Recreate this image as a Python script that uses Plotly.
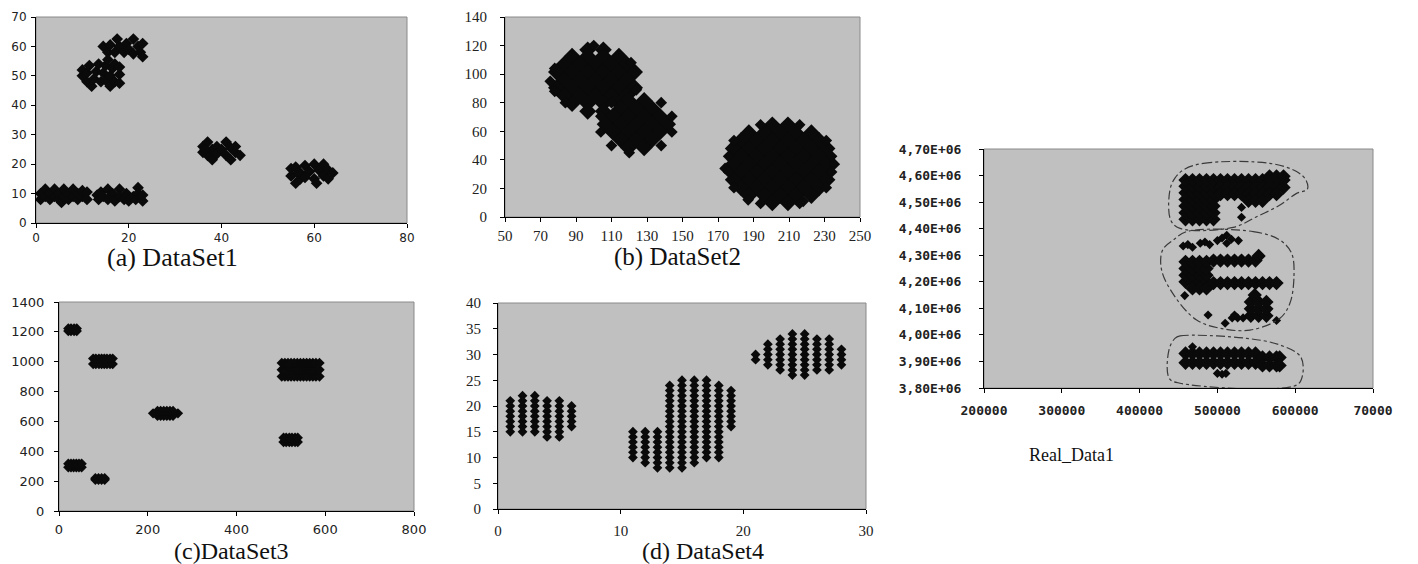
import plotly.graph_objects as go

W, H = 1418, 564

# ---------------- (a) DataSet1 ----------------
ds1_row_left_x = [1, 1, 2, 2, 3, 3, 4, 4, 5, 5, 5.5, 6, 6, 7, 7, 8, 8, 9, 9, 10, 10, 11, 11]
ds1_row_left_y = [8, 10, 9, 11.5, 8, 10, 9, 11.5, 8, 10, 7, 9, 11.5, 8, 10, 9, 11.5, 8, 10, 9, 11, 8, 10.5]
ds1_row_right_x = [13.2, 13.5, 14, 14.5, 15.5, 15.5, 16.5, 17, 18, 18, 19, 19.5, 20, 21, 21.5, 22, 22, 23, 23]
ds1_row_right_y = [9.5, 8, 10.5, 9, 11.5, 8, 10, 7.5, 11.5, 9, 8, 10, 7.5, 9, 8, 12, 10, 7.5, 9.5]
ds1_mid_x = [10, 10, 11, 11, 11.5, 12, 12.5, 13, 13.5, 14, 14.5, 15, 15, 16, 16, 16.5, 17, 17, 18, 18, 18]
ds1_mid_y = [50, 52, 48, 51, 53.5, 46.5, 49, 51.5, 54, 48, 51, 53.5, 48.5, 46.5, 50, 52.5, 48, 54, 47.5, 50.5, 53]
ds1_top_x = [14.5, 15.5, 16, 17, 17.5, 18, 19, 19.5, 20, 21, 21, 22, 22.5, 23, 23, 15.5]
ds1_top_y = [60, 58, 60.5, 58, 62.5, 60, 58, 61, 59, 62.5, 57.5, 60, 58, 61, 56.5, 55.5]
ds1_c4_x = [36, 36, 37, 37, 38, 38, 39, 39, 40, 41, 41, 42, 42, 43, 43, 44, 36.5]
ds1_c4_y = [24, 26, 27.5, 23, 25, 21.5, 26, 23.5, 25, 27.5, 23, 25.5, 21.5, 24, 26, 23, 25]
ds1_c5_x = [55, 55, 56, 56, 57, 57, 58, 58, 59, 60, 60, 60.5, 61, 62, 62, 63, 63, 64, 56.5]
ds1_c5_y = [16, 18.5, 13.5, 19, 17, 15, 19.5, 15.5, 17.5, 20, 15, 13.5, 18, 20, 16, 18, 15, 17, 17]

# ---------------- (b) DataSet2 ----------------
ds2_blob1_x = [96.6, 105.4,
               87.8, 96.6, 105.4, 114.2,
               83.4, 92.2, 101, 109.8, 118.6,
               79, 87.8, 96.6, 105.4, 114.2, 123,
               83.4, 92.2, 101, 109.8, 118.6,
               79, 87.8, 96.6, 105.4, 114.2, 123,
               83.4, 92.2, 101, 109.8, 118.6,
               87.8, 96.6, 105.4, 114.2,
               96.6, 105.4]
ds2_blob1_y = [117, 117,
               112.5, 112.5, 112.5, 112.5,
               107, 107, 107, 107, 107,
               101.5, 101.5, 101.5, 101.5, 101.5, 101.5,
               96, 96, 96, 96, 96,
               90.5, 90.5, 90.5, 90.5, 90.5, 90.5,
               85, 85, 85, 85, 85,
               79.5, 79.5, 79.5, 79.5,
               74, 74]
ds2_blob2_x = [119.6, 128.4,
               115.2, 124, 132.8,
               110.8, 119.6, 128.4, 137.2,
               106.4, 115.2, 124, 132.8, 141.6,
               110.8, 119.6, 128.4, 137.2,
               115.2, 124, 132.8,
               119.6, 128.4]
ds2_blob2_y = [81.5, 81.5,
               76, 76, 76,
               70.5, 70.5, 70.5, 70.5,
               65, 65, 65, 65, 65,
               59.5, 59.5, 59.5, 59.5,
               54, 54, 54,
               48.5, 48.5]
ds2_blob3_x = [200.6, 209.4,
               187.4, 196.2, 205, 213.8, 222.6,
               183, 191.8, 200.6, 209.4, 218.2, 227,
               178.6, 187.4, 196.2, 205, 213.8, 222.6, 231.4,
               183, 191.8, 200.6, 209.4, 218.2, 227,
               178.6, 187.4, 196.2, 205, 213.8, 222.6, 231.4,
               183, 191.8, 200.6, 209.4, 218.2, 227,
               178.6, 187.4, 196.2, 205, 213.8, 222.6, 231.4,
               183, 191.8, 200.6, 209.4, 218.2, 227,
               187.4, 196.2, 205, 213.8, 222.6,
               200.6, 209.4]
ds2_blob3_y = [64.5, 64.5,
               59, 59, 59, 59, 59,
               53.5, 53.5, 53.5, 53.5, 53.5, 53.5,
               48, 48, 48, 48, 48, 48, 48,
               42.5, 42.5, 42.5, 42.5, 42.5, 42.5,
               37, 37, 37, 37, 37, 37, 37,
               31.5, 31.5, 31.5, 31.5, 31.5, 31.5,
               26, 26, 26, 26, 26, 26, 26,
               20.5, 20.5, 20.5, 20.5, 20.5, 20.5,
               15, 15, 15, 15, 15,
               10, 10]
ds2_rim_x = [75.5, 84, 121, 100, 78, 78, 124,
             144, 144, 104, 104, 120, 110, 138, 110, 138,
             235.5, 174, 234, 176, 234, 176, 187, 218, 231, 179, 231, 179, 194, 216, 194, 216]
ds2_rim_y = [95, 80, 108, 120, 104, 88, 89,
             70.5, 59.5, 70.5, 59.5, 45, 50, 50, 80, 80,
             37, 34, 42.5, 42.5, 31.5, 31.5, 12, 11, 53.5, 53.5, 20.5, 20.5, 64.5, 64.5, 9.5, 9.5]

# ---------------- (c) DataSet3 ----------------
ds3_x = [21, 27, 34, 40, 21, 27, 34, 40,
         77, 83, 90, 96, 102, 108, 115, 121, 77, 83, 90, 96, 102, 108, 115, 121,
         212, 268, 222, 229, 236, 243, 250, 257, 222, 229, 236, 243, 250, 257,
         21, 27, 33, 39, 45, 51, 21, 27, 33, 39, 45, 51,
         82, 89, 96, 103, 82, 89, 96, 103,
         506, 512, 519, 525, 532, 538, 506, 512, 519, 525, 532, 538,
         502, 509, 516, 523, 530, 537, 544, 551, 558, 565, 572, 579, 587,
         502, 509, 516, 523, 530, 537, 544, 551, 558, 565, 572, 579, 587,
         502, 509, 516, 523, 530, 537, 544, 551, 558, 565, 572, 579, 587]
ds3_y = [1205, 1205, 1205, 1205, 1222, 1222, 1222, 1222,
         985, 985, 985, 985, 985, 985, 985, 985, 1021, 1021, 1021, 1021, 1021, 1021, 1021, 1021,
         654, 654, 638, 638, 638, 638, 638, 638, 670, 670, 670, 670, 670, 670,
         293, 293, 293, 293, 293, 293, 317, 317, 317, 317, 317, 317,
         209, 209, 209, 209, 219, 219, 219, 219,
         462, 462, 462, 462, 462, 462, 491, 491, 491, 491, 491, 491,
         901, 901, 901, 901, 901, 901, 901, 901, 901, 901, 901, 901, 901,
         946, 946, 946, 946, 946, 946, 946, 946, 946, 946, 946, 946, 946,
         992, 992, 992, 992, 992, 992, 992, 992, 992, 992, 992, 992, 992]

# ---------------- (d) DataSet4 ----------------
ds4_col_x = [1, 2, 3, 4, 5, 6, 11, 12, 13, 14, 15, 16, 17, 18, 19, 21, 22, 23, 24, 25, 26, 27, 28]
ds4_col_y = [
    [15, 16, 17, 18, 19, 20, 21],
    [15, 16, 17, 18, 19, 20, 21, 22],
    [15, 16, 17, 18, 19, 20, 21, 22],
    [14, 15, 16, 17, 18, 19, 20, 21],
    [14, 15, 16, 17, 18, 19, 20, 21],
    [16, 17, 18, 19, 20],
    [10, 11, 12, 13, 14, 15],
    [9, 10, 11, 12, 13, 14, 15],
    [8, 9, 10, 11, 12, 13, 14, 15],
    [8, 9, 10, 11, 12, 13, 14, 15, 16, 17, 18, 19, 20, 21, 22, 23, 24],
    [8, 9, 10, 11, 12, 13, 14, 15, 16, 17, 18, 19, 20, 21, 22, 23, 24, 25],
    [9, 10, 11, 12, 13, 14, 15, 16, 17, 18, 19, 20, 21, 22, 23, 24, 25],
    [10, 11, 12, 13, 14, 15, 16, 17, 18, 19, 20, 21, 22, 23, 24, 25],
    [10, 11, 12, 13, 14, 15, 16, 17, 18, 19, 20, 21, 22, 23, 24],
    [16, 17, 18, 19, 20, 21, 22, 23],
    [29, 30],
    [28, 29, 30, 31, 32],
    [27, 28, 29, 30, 31, 32, 33],
    [26, 27, 28, 29, 30, 31, 32, 33, 34],
    [26, 27, 28, 29, 30, 31, 32, 33, 34],
    [27, 28, 29, 30, 31, 32, 33],
    [27, 28, 29, 30, 31, 32, 33],
    [28, 29, 30, 31],
]

# ---------------- Real_Data1 (x in thousands, y in millions) ----------------
rd_bulk_xk = [459, 468, 477, 486, 495, 459, 468, 477, 486, 495, 459, 468, 477, 486, 495,
              459, 468, 477, 486, 495, 459, 468, 477, 486, 495, 459, 468, 477, 486, 495,
              459, 468, 477, 486, 495,
              504, 513, 522, 531, 540, 549, 558, 567, 576, 585,
              504, 513, 522, 531, 540, 549, 558, 567, 576, 585,
              504, 513, 522, 531, 540, 549, 558, 567, 576,
              540, 549, 558, 567, 576, 585,
              459, 468, 477, 486, 459, 468, 477, 486, 459, 468, 477, 486, 459, 468, 477, 486,
              468, 477, 486,
              495, 504, 513, 522, 531, 540, 549, 553,
              495, 504, 513, 522, 531, 540, 549, 558, 567, 576,
              543, 553, 563, 543, 553, 563, 543, 553, 563, 548,
              459, 468, 477, 486, 495, 504, 513, 522, 531, 540, 549,
              459, 468, 477, 486, 495, 504, 513, 522, 531, 540, 549,
              558, 567, 576, 580, 558, 567, 576, 580]
rd_bulk_ym = [4.435, 4.435, 4.435, 4.435, 4.435, 4.46, 4.46, 4.46, 4.46, 4.46, 4.485, 4.485, 4.485, 4.485, 4.485,
              4.51, 4.51, 4.51, 4.51, 4.51, 4.535, 4.535, 4.535, 4.535, 4.535, 4.56, 4.56, 4.56, 4.56, 4.56,
              4.583, 4.583, 4.583, 4.583, 4.583,
              4.583, 4.583, 4.583, 4.583, 4.583, 4.583, 4.583, 4.583, 4.583, 4.583,
              4.555, 4.555, 4.555, 4.555, 4.555, 4.555, 4.555, 4.555, 4.555, 4.555,
              4.53, 4.53, 4.53, 4.53, 4.53, 4.53, 4.53, 4.53, 4.53,
              4.505, 4.505, 4.505, 4.597, 4.597, 4.597,
              4.20, 4.20, 4.20, 4.20, 4.225, 4.225, 4.225, 4.225, 4.25, 4.25, 4.25, 4.25, 4.275, 4.275, 4.275, 4.275,
              4.175, 4.175, 4.175,
              4.28, 4.28, 4.28, 4.28, 4.28, 4.28, 4.28, 4.297,
              4.195, 4.195, 4.195, 4.195, 4.195, 4.195, 4.195, 4.195, 4.195, 4.195,
              4.072, 4.072, 4.072, 4.098, 4.098, 4.098, 4.124, 4.124, 4.124, 4.15,
              3.93, 3.93, 3.93, 3.93, 3.93, 3.93, 3.93, 3.93, 3.93, 3.93, 3.93,
              3.895, 3.895, 3.895, 3.895, 3.895, 3.895, 3.895, 3.895, 3.895, 3.895, 3.895,
              3.915, 3.915, 3.915, 3.915, 3.885, 3.885, 3.885, 3.885]
rd_small_xk = [531, 531,
               456, 462, 468, 478, 484, 490, 500, 506, 512, 518, 512, 527,
               519, 526, 533, 522,
               458, 488, 510, 576,
               500, 506, 511, 468]
rd_small_ym = [4.48, 4.443,
               4.335, 4.34, 4.33, 4.345, 4.35, 4.34, 4.355, 4.365, 4.375, 4.36, 4.345, 4.355,
               4.064, 4.064, 4.064, 4.075,
               4.148, 4.075, 4.044, 4.054,
               3.855, 3.852, 3.855, 3.955]

rd_outline_top_xk = [456, 482, 567.5, 601.8, 613.8, 615.5, 601.8, 580.4, 550.4, 520.4, 451.9, 439.9, 439, 445.4, 456]
rd_outline_top_ym = [4.621, 4.646, 4.646, 4.615, 4.583, 4.548, 4.533, 4.489, 4.445, 4.405, 4.401, 4.433, 4.546, 4.590, 4.621]
rd_outline_mid_xk = [460.5, 546, 580.4, 595.4, 598.4, 593.2, 580.4, 541.8, 503.3, 473.3, 445.4, 428.3, 429.6, 443.3, 460.5]
rd_outline_mid_ym = [4.389, 4.389, 4.357, 4.307, 4.219, 4.119, 4.0625, 4.018, 4.025, 4.056, 4.144, 4.244, 4.320, 4.357, 4.389]
rd_outline_bot_xk = [445.4, 451.9, 537.5, 580.4, 606.9, 609.5, 601.8, 451.9, 438.1, 437.7, 445.4]
rd_outline_bot_ym = [3.987, 3.996, 3.987, 3.962, 3.918, 3.849, 3.811, 3.818, 3.836, 3.943, 3.987]

rd_xtick_vals = [200000, 300000, 400000, 500000, 600000, 700000]
rd_xtick_text = ["200000", "300000", "400000", "500000", "600000", "70000"]
rd_ytick_vals = [3.8e6, 3.9e6, 4.0e6, 4.1e6, 4.2e6, 4.3e6, 4.4e6, 4.5e6, 4.6e6, 4.7e6]
rd_ytick_text = ["3,80E+06", "3,90E+06", "4,00E+06", "4,10E+06", "4,20E+06",
                 "4,30E+06", "4,40E+06", "4,50E+06", "4,60E+06", "4,70E+06"]

captions = ["(a) DataSet1", "(b) DataSet2", "(c)DataSet3", "(d) DataSet4", "Real_Data1"]

# ---------------- figure ----------------
MARK = '#0a0a0a'
SERIF = 'Liberation Serif, Times New Roman, serif'
fig = go.Figure()


def add_pts(x, y, n, size):
    fig.add_trace(go.Scatter(
        x=x, y=y, mode='markers', xaxis='x' + n, yaxis='y' + n,
        marker=dict(symbol='diamond', size=size, color=MARK, line=dict(width=0)),
        hoverinfo='skip', showlegend=False))


for xs, ys in [(ds1_row_left_x, ds1_row_left_y), (ds1_row_right_x, ds1_row_right_y),
               (ds1_mid_x, ds1_mid_y), (ds1_top_x, ds1_top_y),
               (ds1_c4_x, ds1_c4_y), (ds1_c5_x, ds1_c5_y)]:
    add_pts(xs, ys, '', 9)

add_pts(ds2_blob1_x, ds2_blob1_y, '2', 13)
add_pts(ds2_blob2_x, ds2_blob2_y, '2', 13)
add_pts(ds2_blob3_x, ds2_blob3_y, '2', 13)
add_pts(ds2_rim_x, ds2_rim_y, '2', 9)

add_pts(ds3_x, ds3_y, '3', 8)

ds4_x, ds4_y = [], []
for cx, cys in zip(ds4_col_x, ds4_col_y):
    for cy in cys:
        ds4_x.append(cx)
        ds4_y.append(cy)
add_pts(ds4_x, ds4_y, '4', 7.5)

add_pts([v * 1000 for v in rd_bulk_xk], [v * 1e6 for v in rd_bulk_ym], '5', 11)
add_pts([v * 1000 for v in rd_small_xk], [v * 1e6 for v in rd_small_ym], '5', 7)
for ox, oy in [(rd_outline_top_xk, rd_outline_top_ym),
               (rd_outline_mid_xk, rd_outline_mid_ym),
               (rd_outline_bot_xk, rd_outline_bot_ym)]:
    fig.add_trace(go.Scatter(
        x=[v * 1000 for v in ox], y=[v * 1e6 for v in oy], mode='lines',
        xaxis='x5', yaxis='y5', line=dict(color='#3a3a3a', width=1.2, dash='dashdot', shape='spline'),
        hoverinfo='skip', showlegend=False))

# pixel boxes: (left, right, top, bottom)
boxes = {
    '': (36, 407, 17, 223),
    '2': (505, 860, 17, 217),
    '3': (59, 414, 302, 511),
    '4': (498, 866, 303, 509),
    '5': (984, 1373, 149, 388),
}
ranges = {
    '': ([0, 80], [0, 70]),
    '2': ([50, 250], [0, 140]),
    '3': ([0, 800], [0, 1400]),
    '4': ([0, 30], [0, 40]),
    '5': ([200000, 700000], [3.8e6, 4.7e6]),
}
ticks = {
    '': (dict(tick0=0, dtick=20), dict(tick0=0, dtick=10)),
    '2': (dict(tick0=50, dtick=20), dict(tick0=0, dtick=20)),
    '3': (dict(tick0=0, dtick=200), dict(tick0=0, dtick=200)),
    '4': (dict(tick0=0, dtick=10), dict(tick0=0, dtick=5)),
    '5': (dict(tickmode='array', tickvals=rd_xtick_vals, ticktext=rd_xtick_text),
          dict(tickmode='array', tickvals=rd_ytick_vals, ticktext=rd_ytick_text)),
}
fonts = {
    '': dict(family='DejaVu Sans', size=12, color='#222'),
    '2': dict(family=SERIF, size=15, color='#222'),
    '3': dict(family='DejaVu Sans', size=13, color='#222'),
    '4': dict(family=SERIF, size=15, color='#222'),
    '5': dict(family='DejaVu Sans Mono', size=13, color='#222', weight='bold'),
}
standoff = {
    '': (0, 2),
    '2': (1, 10),
    '3': (2, 7),
    '4': (4, 9),
    '5': (6, 15),
}

layout = dict(
    width=W, height=H, margin=dict(l=0, r=0, t=0, b=0, pad=0, autoexpand=False),
    paper_bgcolor='white', plot_bgcolor='#C0C0C0',
    showlegend=False, hovermode=False, shapes=[], annotations=[],
)
for n, (l, r, t, b) in boxes.items():
    xr, yr = ranges[n]
    tx, ty = ticks[n]
    sx, sy = standoff[n]
    common = dict(showgrid=False, zeroline=False, showline=True, linecolor='black', linewidth=1,
                  ticks='outside', ticklen=4, tickcolor='black', tickwidth=1,
                  tickfont=fonts[n], fixedrange=True, automargin=False)
    layout['xaxis' + n] = dict(domain=[l / W, r / W], range=xr, anchor='y' + n,
                               ticklabelstandoff=sx, **tx, **common)
    layout['yaxis' + n] = dict(domain=[1 - b / H, 1 - t / H], range=yr, anchor='x' + n,
                               ticklabelstandoff=sy, **ty, **common)
    layout['shapes'].append(dict(type='rect', xref='x' + n + ' domain', yref='y' + n + ' domain',
                                 x0=0, x1=1, y0=0, y1=1, layer='below',
                                 line=dict(color='#8a8a8a', width=1)))

cap_pos = [(172, 257, 26), (677, 257, 25), (231, 551, 24), (703, 551, 24), (1071, 455, 18)]
for text, (cx, cy, fs) in zip(captions, cap_pos):
    layout['annotations'].append(dict(
        text=text, xref='paper', yref='paper', x=cx / W, y=1 - cy / H,
        xanchor='center', yanchor='middle', showarrow=False,
        font=dict(family=SERIF, size=fs, color='#111')))

fig.update_layout(**layout)
fig.write_html("out.html", config={'displayModeBar': False, 'staticPlot': True},
               post_script="document.body.style.margin='0px';document.body.style.padding='0px';")
